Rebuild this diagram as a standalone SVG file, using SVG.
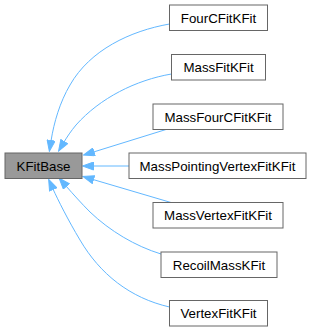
<svg xmlns="http://www.w3.org/2000/svg" width="313" height="332" viewBox="0 0 313 332">
<style>
.n rect{fill:#ffffff;stroke:#666666;stroke-width:1}
.p rect{fill:#999999;stroke:#666666;stroke-width:1}
text{font-family:"Liberation Sans",Arial,sans-serif;font-size:13.3px;fill:#000000;text-anchor:middle}
.e path{fill:none;stroke:#63b8ff;stroke-width:1}
</style>
<defs>
<marker id="ah" markerUnits="userSpaceOnUse" viewBox="0 0 12 9" refX="1" refY="4.5" markerWidth="12" markerHeight="9" orient="auto">
<path d="M0.5,0.5 L11.5,4.5 L0.5,8.5 z" fill="#63b8ff" stroke="#63b8ff" stroke-width="1"/>
</marker>
</defs>
<g id="edges" class="e">
<path marker-end="url(#ah)" d="M169.5,24 C130,31 90,50 70,85 C60,102 54,122 51,141"/>
<path marker-end="url(#ah)" d="M171.5,74 C136,80 100,98 76,125 C71,131 67,137 64,142"/>
<path marker-end="url(#ah)" d="M166,129.5 L93.5,152"/>
<path marker-end="url(#ah)" d="M129,166 L93,166"/>
<path marker-end="url(#ah)" d="M171,202.5 L93,179.5"/>
<path marker-end="url(#ah)" d="M161,254 C135,246 110,231 90,212 C82,204 73,194 66,186"/>
<path marker-end="url(#ah)" d="M169.5,307 C130,298 100,274 80,240 C68,220 58,200 53,189"/>
</g>
<g id="KFitBase" class="p"><rect x="5" y="153" width="77" height="25.5"/><text x="43.5" y="170.5">KFitBase</text></g>
<g id="FourCFitKFit" class="n"><rect x="169.5" y="5" width="98" height="25.5"/><text x="218.5" y="22.5">FourCFitKFit</text></g>
<g id="MassFitKFit" class="n"><rect x="171.5" y="54.5" width="94" height="25.5"/><text x="218.5" y="72">MassFitKFit</text></g>
<g id="MassFourCFitKFit" class="n"><rect x="153" y="104" width="130" height="25.5"/><text x="218" y="121.5">MassFourCFitKFit</text></g>
<g id="MassPointingVertexFitKFit" class="n"><rect x="129" y="153" width="177" height="25.5"/><text x="217.5" y="170.5">MassPointingVertexFitKFit</text></g>
<g id="MassVertexFitKFit" class="n"><rect x="153" y="202.5" width="130" height="25.5"/><text x="218" y="220">MassVertexFitKFit</text></g>
<g id="RecoilMassKFit" class="n"><rect x="161" y="252" width="116" height="25.5"/><text x="219" y="269.5">RecoilMassKFit</text></g>
<g id="VertexFitKFit" class="n"><rect x="169.5" y="300.5" width="98" height="25.5"/><text x="218.5" y="318">VertexFitKFit</text></g>
</svg>
